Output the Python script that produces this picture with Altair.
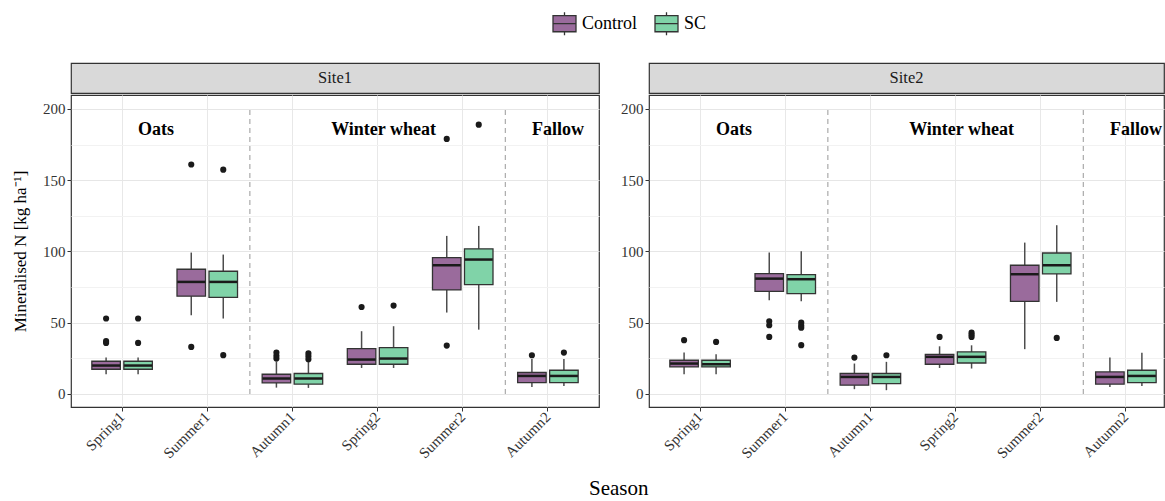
import altair as alt
import pandas as pd

SERIF = "Liberation Serif"

seasons = ["Spring1", "Summer1", "Autumn1", "Spring2", "Summer2", "Autumn2"]
treatments = ["Control", "SC"]
colors = ["#9a6b9c", "#80d3a8"]
y_ticks = [0, 50, 100, 150, 200]

# ---- Site1 ----
s1c_lo  = [13.8, 55.2, 4.4, 18.2, 57.1, 4.9]
s1c_q1  = [17.3, 68.6, 7.7, 20.8, 73.0, 7.9]
s1c_med = [19.9, 78.6, 10.8, 24.1, 90.3, 12.6]
s1c_q3  = [22.9, 87.5, 13.8, 31.8, 95.7, 15.0]
s1c_hi  = [25.5, 99.2, 22.5, 44.0, 110.9, 24.5]
s1c_out = [[52.9, 35.8, 37.0], [161.0, 33.0], [24.8, 26.7, 29.0], [61.0], [179.0, 33.9], [27.1]]

s1s_lo  = [13.8, 52.9, 4.2, 18.2, 45.1, 5.6]
s1s_q1  = [17.3, 67.8, 6.8, 20.8, 76.7, 7.9]
s1s_med = [19.9, 78.6, 10.8, 24.8, 94.3, 12.6]
s1s_q3  = [22.9, 86.1, 14.3, 32.5, 101.8, 16.6]
s1s_hi  = [25.5, 97.8, 22.5, 47.5, 117.9, 24.5]
s1s_out = [[52.9, 35.8], [157.4, 27.2], [24.3, 26.5, 28.5], [62.0], [189.0], [29.0]]

# ---- Site2 ----
s2c_lo  = [13.8, 65.7, 3.3, 18.2, 31.4, 4.9]
s2c_q1  = [18.9, 72.0, 6.1, 20.8, 65.0, 6.8]
s2c_med = [21.3, 80.9, 11.9, 26.0, 84.0, 11.9]
s2c_q3  = [23.6, 84.4, 14.3, 27.8, 90.3, 15.4]
s2c_hi  = [29.0, 99.2, 21.3, 33.4, 106.2, 25.5]
s2c_out = [[37.7], [51.0, 48.2, 40.0], [25.5], [40.0], [], []]

s2s_lo  = [13.8, 65.0, 2.6, 17.8, 64.6, 5.6]
s2s_q1  = [18.9, 70.4, 7.2, 21.7, 84.2, 7.9]
s2s_med = [20.8, 80.5, 11.9, 26.0, 90.3, 12.6]
s2s_q3  = [23.6, 83.7, 14.3, 29.5, 98.9, 16.6]
s2s_hi  = [27.9, 100.1, 22.5, 34.1, 118.4, 28.8]
s2s_out = [[36.5], [50.0, 48.0, 46.5, 34.2], [27.1], [43.0, 41.5, 40.0], [39.3], []]

crop_names = ["Oats", "Winter wheat", "Fallow"]
crop_anchor = ["Spring1", "Spring2", "Autumn2"]
crop_shift = [34, 6, 10]
crop_label_y = 185
separators = ["Autumn1", "Autumn2"]

series = [
    ("Site1", "Control", s1c_lo, s1c_q1, s1c_med, s1c_q3, s1c_hi, s1c_out),
    ("Site1", "SC", s1s_lo, s1s_q1, s1s_med, s1s_q3, s1s_hi, s1s_out),
    ("Site2", "Control", s2c_lo, s2c_q1, s2c_med, s2c_q3, s2c_hi, s2c_out),
    ("Site2", "SC", s2s_lo, s2s_q1, s2s_med, s2s_q3, s2s_hi, s2s_out),
]
box_rows, out_rows = [], []
for site, tr, lo, q1, med, q3, hi, outs in series:
    for i, s in enumerate(seasons):
        box_rows.append(dict(Site=site, Season=s, Treatment=tr, lo=lo[i], q1=q1[i],
                             med=med[i], q3=q3[i], hi=hi[i]))
        for v in outs[i]:
            out_rows.append(dict(Site=site, Season=s, Treatment=tr, value=v))
boxes = pd.DataFrame(box_rows)
outliers = pd.DataFrame(out_rows)
sep_df = pd.DataFrame({"Season": separators, "y0": min(y_ticks), "y1": max(y_ticks)})

BOX_PATH = "M-1,-0.7H1V0.7H-1Z M-1,0H1 M0,-0.7V-1 M0,0.7V1"

PANEL_H = 312


def panel(site, width, ytitle, pad_outer, align):
    b = boxes[boxes.Site == site]
    o = outliers[outliers.Site == site]
    xaxis = alt.Axis(title=None, labelAngle=-45, labelAlign="right", labelBaseline="middle",
                     labelFont=SERIF, labelFontSize=15, labelColor="#333333", labelPadding=3,
                     grid=True, gridColor="#e8e8e8", domain=False, tickColor="#333333",
                     tickSize=4)
    xscale = alt.Scale(domain=seasons, paddingInner=0.2, paddingOuter=pad_outer, align=align)
    yaxis = alt.Axis(
        title=ytitle if ytitle else None,
        values=list(range(0, 201, 25)),
        labelExpr="datum.value % 50 === 0 ? datum.label : ''",
        tickOpacity={"condition": {"test": "datum.value % 50 === 0", "value": 1}, "value": 0},
        gridColor={"condition": {"test": "datum.value % 50 === 0", "value": "#e6e6e6"}, "value": "#f2f2f2"},
        labelFont=SERIF, labelFontSize=15, labelColor="#333333", tickColor="#333333", tickSize=4,
        domain=False, titleFont=SERIF, titleFontSize=17, titleFontWeight="normal",
        titleColor="black", titlePadding=13,
    )
    yscale = alt.Scale(domain=[-9.2, 209.8], nice=False, zero=False)
    X = alt.X("Season:N", scale=xscale, sort=seasons, axis=xaxis)
    XO = alt.XOffset("Treatment:N", sort=treatments,
                     scale=alt.Scale(domain=treatments, paddingInner=0.109, paddingOuter=0.119))

    whisk = alt.Chart(b).mark_rule(color="#4d4d4d", strokeWidth=1.5).encode(
        x=X, xOffset=XO, y=alt.Y("lo:Q", scale=yscale, axis=yaxis), y2="hi:Q")
    bar = alt.Chart(b).mark_bar(stroke="#333333", strokeWidth=1.3, opacity=1).encode(
        x=X, xOffset=XO, y=alt.Y("q1:Q", scale=yscale, axis=yaxis), y2="q3:Q",
        color=alt.Color("Treatment:N", sort=treatments,
                        scale=alt.Scale(domain=treatments, range=colors),
                        legend=alt.Legend(title=None, orient="none", direction="horizontal",
                                          legendX=481, legendY=-52,
                                          symbolType=BOX_PATH, symbolSize=529,
                                          symbolStrokeColor="#333333", symbolStrokeWidth=1.3,
                                          symbolOpacity=1,
                                          labelFont=SERIF, labelFontSize=18, labelColor="black",
                                          columnPadding=14, labelOffset=5)))
    med = alt.Chart(b).mark_tick(orient="horizontal", thickness=2.5, size=28, color="#1a1a1a",
                                 opacity=1).encode(
        x=X, xOffset=XO, y=alt.Y("med:Q", scale=yscale, axis=yaxis))
    pts = alt.Chart(o).mark_circle(size=38, color="#1a1a1a", opacity=1).encode(
        x=X, xOffset=XO, y=alt.Y("value:Q", scale=yscale, axis=yaxis))
    sep = alt.Chart(sep_df).mark_rule(color="#aaaaaa", strokeDash=[5, 4], strokeWidth=1.2).encode(
        x=alt.X("Season:N", scale=xscale, sort=seasons, axis=xaxis, bandPosition=0),
        xOffset=alt.value(-8.5),
        y=alt.Y("y0:Q", scale=yscale, axis=yaxis), y2="y1:Q")
    texts = []
    for name, anchor, shift in zip(crop_names, crop_anchor, crop_shift):
        tdf = pd.DataFrame({"Season": [anchor], "label": [name], "y": [crop_label_y]})
        texts.append(alt.Chart(tdf).mark_text(font=SERIF, fontSize=18, fontWeight="bold",
                                              color="black", dx=shift, clip=True).encode(
            x=X, y=alt.Y("y:Q", scale=yscale, axis=yaxis), text="label:N"))
    layers = alt.layer(sep, whisk, bar, med, pts, *texts).properties(width=width, height=PANEL_H)

    strip = alt.Chart(pd.DataFrame({"Site": [site]})).mark_text(
        font=SERIF, fontSize=16.5, color="#1a1a1a").encode(text="Site:N").properties(
        width=width, height=30,
        view=alt.ViewBackground(fill="#d9d9d9", stroke="#333333", strokeWidth=1.2))
    return alt.vconcat(strip, layers, spacing=0)


left = panel("Site1", 528, "Mineralised N [kg ha⁻¹]", 0.2, 0.5)
right = panel("Site2", 515, None, 0.1237, 0.808)

chart = alt.hconcat(left, right, spacing=19).properties(
    title=alt.TitleParams("Season", orient="bottom", anchor="middle", font=SERIF,
                          fontSize=21, fontWeight="normal", color="black", offset=16, dx=31),
    padding={"left": 10, "top": 11, "right": 0, "bottom": 0},
).configure_view(stroke="#333333", strokeWidth=1.2).configure_concat(spacing=19)

chart.save("out.html", embed_options={"renderer": "svg", "actions": False})
